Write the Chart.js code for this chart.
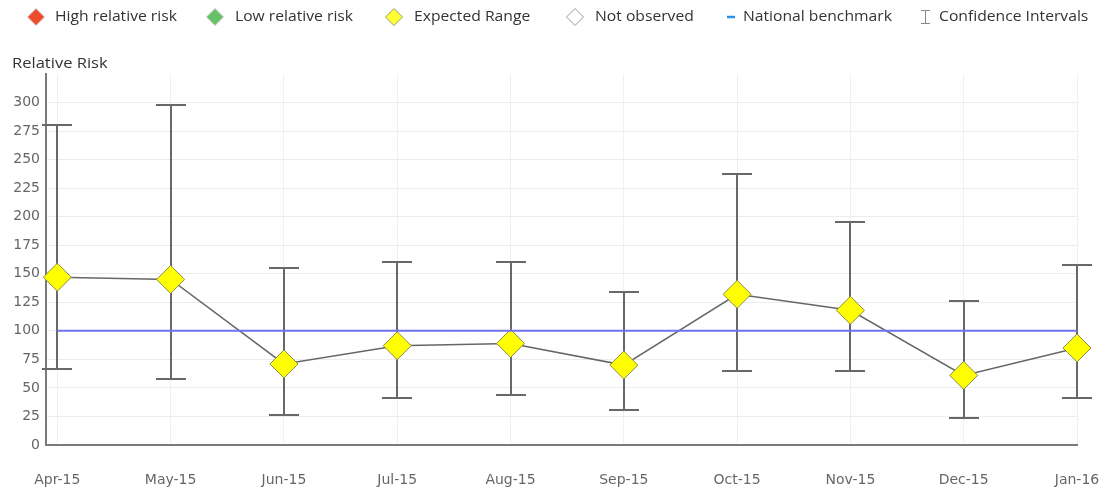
<!DOCTYPE html>
<html>
<head>
<meta charset="utf-8">
<title>Relative Risk by Month</title>
<script src="https://cdn.jsdelivr.net/npm/chart.js@4.4.1/dist/chart.umd.min.js"></script>
<style>
  html, body { margin: 0; padding: 0; background: #ffffff; }
  #wrap { width: 1105px; height: 488px; position: relative; }
</style>
</head>
<body>
<div id="wrap"><canvas id="chart" width="1105" height="488"></canvas></div>
<script>
// Months shown along the x axis
const months = ['Apr-15', 'May-15', 'Jun-15', 'Jul-15', 'Aug-15', 'Sep-15', 'Oct-15', 'Nov-15', 'Dec-15', 'Jan-16'];
// Relative risk per month
const relativeRisk = [147, 145, 71, 87, 89, 70, 132, 118, 61, 85];
// Confidence interval bounds
const ciUpper = [280, 298, 155, 160, 160, 134, 237, 195, 126, 158];
const ciLower = [67, 58, 26, 41, 44, 31, 65, 65, 24, 41];
// National benchmark level
const benchmark = [100, 100, 100, 100, 100, 100, 100, 100, 100, 100];
// Y axis tick values
const yTicks = [0, 25, 50, 75, 100, 125, 150, 175, 200, 225, 250, 275, 300];

// Legend entries
const legendEntries = [
  { text: 'High relative risk', icon: 'diamond', fill: '#ee4a2c', stroke: '#c8c8c8', x: 36 },
  { text: 'Low relative risk', icon: 'diamond', fill: '#66c266', stroke: '#c8c8c8', x: 215 },
  { text: 'Expected Range', icon: 'diamond', fill: '#ffff33', stroke: '#9a9a6a', x: 394 },
  { text: 'Not observed', icon: 'diamond', fill: '#ffffff', stroke: '#999999', x: 575 },
  { text: 'National benchmark', icon: 'dash', fill: '#2b8fe8', stroke: '#2b8fe8', x: 731 },
  { text: 'Confidence Intervals', icon: 'ibeam', fill: '#888888', stroke: '#888888', x: 925 }
];
const legendTextX = [55, 235, 414, 595, 743, 939];

// Draws text stretched horizontally to a wider face
function drawWideText(ctx, text, x, y, stretch) {
  ctx.save();
  ctx.translate(x, y);
  ctx.scale(stretch, 1);
  ctx.fillText(text, 0, 0);
  ctx.restore();
}

const legendPlugin = {
  id: 'topLegend',
  afterDraw(chart) {
    const ctx = chart.ctx;
    ctx.save();
    const cy = 17;
    legendEntries.forEach((e, i) => {
      if (e.icon === 'diamond') {
        const r = 8.5;
        ctx.beginPath();
        ctx.moveTo(e.x, cy - r);
        ctx.lineTo(e.x + r, cy);
        ctx.lineTo(e.x, cy + r);
        ctx.lineTo(e.x - r, cy);
        ctx.closePath();
        ctx.fillStyle = e.fill;
        ctx.fill();
        ctx.lineWidth = 1;
        ctx.strokeStyle = e.stroke;
        ctx.stroke();
      } else if (e.icon === 'dash') {
        ctx.beginPath();
        ctx.moveTo(e.x - 4, cy);
        ctx.lineTo(e.x + 4, cy);
        ctx.lineWidth = 2.5;
        ctx.strokeStyle = e.stroke;
        ctx.stroke();
      } else {
        ctx.beginPath();
        ctx.moveTo(e.x + 0.5, cy - 6);
        ctx.lineTo(e.x + 0.5, cy + 6);
        ctx.moveTo(e.x - 4, cy - 6.5);
        ctx.lineTo(e.x + 5, cy - 6.5);
        ctx.moveTo(e.x - 4, cy + 6.5);
        ctx.lineTo(e.x + 5, cy + 6.5);
        ctx.lineWidth = 1;
        ctx.strokeStyle = e.stroke;
        ctx.stroke();
      }
      ctx.fillStyle = '#333333';
      ctx.font = '14px "Open Sans", sans-serif';
      ctx.textAlign = 'left';
      ctx.textBaseline = 'middle';
      drawWideText(ctx, e.text, legendTextX[i], cy, 1.12);
    });
    // axis caption above the plot
    ctx.fillStyle = '#333333';
    ctx.font = '14px "Open Sans", sans-serif';
    ctx.textAlign = 'left';
    ctx.textBaseline = 'middle';
    drawWideText(ctx, 'Relative Risk', 12, 64, 1.18);
    ctx.restore();
  }
};

// Confidence interval whiskers, drawn just before the risk series
const errorBarPlugin = {
  id: 'errorBars',
  beforeDatasetDraw(chart, args) {
    if (args.index !== 1) return;
    const { ctx, scales: { x, y } } = chart;
    ctx.save();
    ctx.strokeStyle = '#686868';
    ctx.lineWidth = 2;
    const cap = 15;
    for (let i = 0; i < months.length; i++) {
      const px = Math.round(x.getPixelForValue(i));
      const yTop = Math.round(y.getPixelForValue(ciUpper[i]));
      const yBot = Math.round(y.getPixelForValue(ciLower[i]));
      ctx.beginPath();
      ctx.moveTo(px, yTop);
      ctx.lineTo(px, yBot);
      ctx.moveTo(px - cap, yTop);
      ctx.lineTo(px + cap, yTop);
      ctx.moveTo(px - cap, yBot);
      ctx.lineTo(px + cap, yBot);
      ctx.stroke();
    }
    ctx.restore();
  }
};

const ctx = document.getElementById('chart').getContext('2d');
new Chart(ctx, {
  type: 'line',
  data: {
    datasets: [
      {
        label: 'National benchmark',
        data: benchmark.map((v, i) => ({ x: i, y: v })),
        borderColor: 'rgb(112,112,240)',
        borderWidth: 2,
        pointRadius: 0,
        fill: false
      },
      {
        label: 'Relative Risk',
        data: relativeRisk.map((v, i) => ({ x: i, y: v })),
        borderColor: '#666666',
        borderWidth: 1.5,
        pointStyle: 'rectRot',
        pointRadius: 14,
        pointBackgroundColor: '#ffff00',
        pointBorderColor: '#8a8a50',
        pointBorderWidth: 1,
        clip: false,
        fill: false
      }
    ]
  },
  options: {
    responsive: false,
    animation: false,
    layout: { padding: { left: 0, right: 28, top: 74, bottom: 0 } },
    plugins: {
      legend: { display: false },
      tooltip: { enabled: false }
    },
    scales: {
      x: {
        type: 'linear',
        min: -0.1,
        max: months.length - 1,
        afterBuildTicks(scale) {
          scale.ticks = months.map((m, i) => ({ value: i }));
        },
        afterFit(scale) {
          scale.height = 43;
          scale.paddingLeft = 0;
          scale.paddingRight = 0;
        },
        ticks: {
          callback: (v) => months[v] ?? '',
          color: '#666666',
          font: { family: '"DejaVu Sans", sans-serif', size: 14 },
          padding: 27,
          maxRotation: 0,
          autoSkip: false
        },
        grid: { color: '#f0f0f0', lineWidth: 1, drawTicks: false },
        border: { color: '#7a7a7a', width: 2 }
      },
      y: {
        min: 0,
        max: 325,
        afterBuildTicks(scale) {
          scale.ticks = yTicks.map(v => ({ value: v }));
        },
        afterFit(scale) {
          scale.width = 46;
          scale.paddingTop = 0;
          scale.paddingBottom = 0;
        },
        ticks: {
          color: '#666666',
          font: { family: '"DejaVu Sans", sans-serif', size: 14 },
          padding: 6
        },
        grid: { color: '#ececec', lineWidth: 1, drawTicks: false },
        border: { color: '#7a7a7a', width: 2 }
      }
    }
  },
  plugins: [legendPlugin, errorBarPlugin]
});
</script>
</body>
</html>
